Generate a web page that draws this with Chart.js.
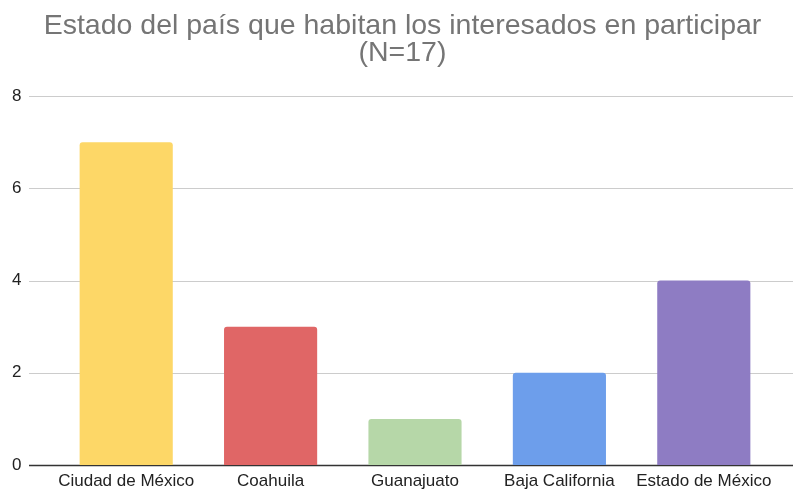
<!DOCTYPE html>
<html><head><meta charset="utf-8">
<script src="https://cdn.jsdelivr.net/npm/chart.js@4/dist/chart.umd.min.js"></script>
<style>html,body{margin:0;padding:0;background:#fff;overflow:hidden}canvas{display:block}</style>
</head><body><canvas id="c" width="793" height="491" style="width:793px;height:491px"></canvas>
<script>
const categories = ["Ciudad de México","Coahuila","Guanajuato","Baja California","Estado de México"];
const values = [7,3,1,2,4];
const barColors = ["#fdd767","#e06666","#b6d7a8","#6d9eeb","#8e7cc3"];
const titleLines = ["Estado del país que habitan los interesados en participar","(N=17)"];
const yTicks = [0,2,4,6,8];

const fullGrid = {
  id:'fullGrid',
  beforeDatasetsDraw(chart){
    const ctx=chart.ctx, y=chart.scales.y;
    ctx.save();
    yTicks.forEach(v=>{
      const py=Math.round(y.getPixelForValue(v))+0.5;
      ctx.beginPath();
      ctx.strokeStyle = v===0 ? '#333333' : '#cccccc';
      ctx.lineWidth = v===0 ? 1.5 : 1;
      ctx.moveTo(29,py); ctx.lineTo(793,py); ctx.stroke();
    });
    ctx.restore();
  }
};

new Chart(document.getElementById('c'),{
  type:'bar',
  data:{labels:categories,datasets:[{data:values,backgroundColor:barColors,barPercentage:0.645,categoryPercentage:1,borderRadius:{topLeft:3,topRight:3},borderSkipped:'bottom'}]},
  options:{
    responsive:false,animation:false,devicePixelRatio:1,
    layout:{padding:{left:12,right:0,top:13,bottom:0}},
    plugins:{
      legend:{display:false},tooltip:{enabled:false},
      title:{display:true,text:titleLines,color:'#757575',font:{family:'Liberation Sans, Arial, sans-serif',size:28.5,weight:'normal',lineHeight:0.93},padding:{top:0,bottom:30}}
    },
    scales:{
      x:{grid:{display:false,drawTicks:false},border:{display:false},afterFit(s){s.height=26;},ticks:{color:'#222222',font:{family:'Liberation Sans, Arial, sans-serif',size:17},padding:6,maxRotation:0,autoSkip:false}},
      y:{min:0,max:8,afterBuildTicks(s){s.ticks=yTicks.map(v=>({value:v}));},grid:{display:false,drawTicks:false},border:{display:false},
         afterFit(s){s.width=42;},
         ticks:{color:'#222222',font:{family:'Liberation Sans, Arial, sans-serif',size:17},padding:4,crossAlign:'far'}},
      y2:{position:'right',min:0,max:8,grid:{display:false,drawTicks:false},border:{display:false},ticks:{display:false},afterFit(s){s.width=17;}}
    }
  },
  plugins:[fullGrid]
});
</script></body></html>
